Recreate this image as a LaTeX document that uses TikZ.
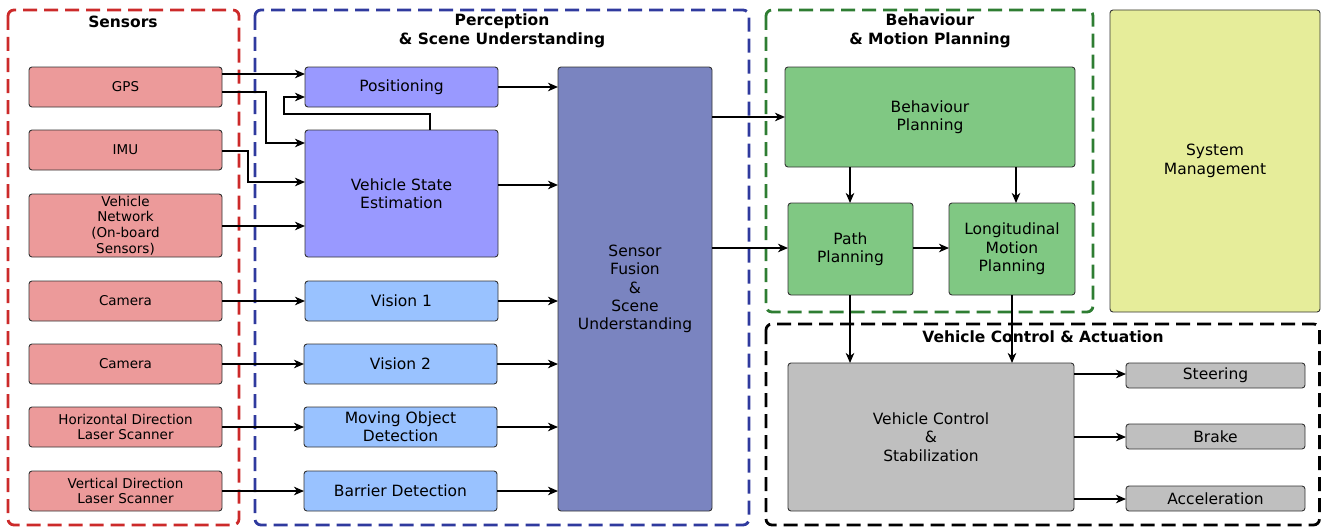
\documentclass[tikz,border=0pt]{standalone}
\usepackage{fontspec}
\setmainfont{DejaVu Sans}
\usetikzlibrary{arrows.meta}
\definecolor{sensfill}{HTML}{EC9A9A}
\definecolor{posfill}{HTML}{9999FF}
\definecolor{visfill}{HTML}{99C2FF}
\definecolor{fusfill}{HTML}{7A84C0}
\definecolor{grnfill}{HTML}{80C883}
\definecolor{smfill}{HTML}{E6ED9A}
\definecolor{gryfill}{HTML}{BFBFBF}
\definecolor{redgrp}{HTML}{CC2A2A}
\definecolor{bluegrp}{HTML}{2F3A9E}
\definecolor{greengrp}{HTML}{2E7D32}
\begin{document}
\begin{tikzpicture}[x=1pt,y=-1pt,
  blk/.style={draw=black!80, line width=0.9pt, rounded corners=3pt, inner sep=0pt, outer sep=0pt,
    anchor=north west, align=center, minimum width=193pt, minimum height=40pt,
    font=\fontsize{15.5}{18.3}\selectfont},
  sens/.style={blk, fill=sensfill, font=\fontsize{13.5}{15.8}\selectfont},
  posb/.style={blk, fill=posfill},
  visb/.style={blk, fill=visfill},
  fusb/.style={blk, fill=fusfill},
  grnb/.style={blk, fill=grnfill},
  smb/.style={blk, fill=smfill},
  gryb/.style={blk, fill=gryfill},
  grp/.style={line width=2.8pt, dash pattern=on 14pt off 7pt, rounded corners=6pt},
  arr/.style={line width=2pt, -{Stealth[length=10pt,width=8.5pt,inset=3pt]}},
  ttl/.style={font=\fontsize{15.5}{19}\selectfont\bfseries, align=center, inner sep=0pt}
]
\useasboundingbox (0,0) rectangle (1321,527);

% groups
\draw[grp, draw=redgrp] (8,10) rectangle (239,525);
\draw[grp, draw=bluegrp] (255,10) rectangle (749,525);
\draw[grp, draw=greengrp] (766,10) rectangle (1093,312);
\draw[grp, draw=black] (766,324) rectangle (1319.5,525);

\node[ttl] (tsens) at (123,21.5) {Sensors};
\node[ttl] (tperc) at (502,31) {Perception\\\& Scene Understanding};
\node[ttl] (tbeh) at (930,31) {Behaviour\\\& Motion Planning};
\node[ttl] (tctrl) at (1043,336.5) {Vehicle Control \& Actuation};

% sensors
\node[sens] (gps) at (29,67) {GPS};
\node[sens] (imu) at (29,130) {IMU};
\node[sens, minimum height=63pt] (vnet) at (29,194) {Vehicle\\Network\\(On-board\\ Sensors)};
\node[sens] (cam1) at (29,281) {Camera};
\node[sens] (cam2) at (29,344) {Camera};
\node[sens] (hlas) at (29,407) {Horizontal Direction\\Laser Scanner};
\node[sens] (vlas) at (29,471) {Vertical Direction\\Laser Scanner};

% perception
\node[posb] (pos) at (305,67) {Positioning};
\node[posb, minimum height=127pt] (vse) at (305,130) {Vehicle State\\Estimation};
\node[visb] (vis1) at (305,281) {Vision 1};
\node[visb] (vis2) at (304,344) {Vision 2};
\node[visb] (mod) at (304,407) {Moving Object\\Detection};
\node[visb] (bar) at (304,471) {Barrier Detection};
\node[fusb, minimum width=154pt, minimum height=444pt] (fus) at (558,67) {Sensor\\Fusion\\\&\\Scene\\Understanding};

% planning
\node[grnb, minimum width=290pt, minimum height=100pt] (bp) at (785,67) {Behaviour\\Planning};
\node[grnb, minimum width=125pt, minimum height=92pt] (pp) at (788,203) {Path\\Planning};
\node[grnb, minimum width=126pt, minimum height=92pt] (lmp) at (949,203) {Longitudinal\\Motion\\Planning};
\node[smb, minimum width=210pt, minimum height=302pt] (sm) at (1110,10) {System\\Management};

% control
\node[gryb, minimum width=286pt, minimum height=148pt] (vcs) at (788,363) {Vehicle Control\\\&\\Stabilization};
\node[gryb, minimum width=179pt, minimum height=25pt] (steer) at (1126,363) {Steering};
\node[gryb, minimum width=179pt, minimum height=25pt] (brake) at (1126,424) {Brake};
\node[gryb, minimum width=179pt, minimum height=25pt] (accel) at (1126,486) {Acceleration};

% connectors
\draw[arr] ([yshift=-7pt]gps.north east) -- ([yshift=-7pt]pos.north west);
\draw[arr] ([yshift=-25pt]gps.north east) -- ++(44,0) |- ([yshift=-13pt]vse.north west);
\draw[arr] ([yshift=-21pt]imu.north east) -- ++(26,0) |- ([yshift=-52pt]vse.north west);
\draw[arr] ([yshift=-32pt]vnet.north east) -- ([yshift=-96pt]vse.north west);
\draw[arr] ([xshift=125pt]vse.north west) -- ++(0,-16) -- ++(-146,0) |- ([yshift=-30pt]pos.north west);
\draw[arr] ([yshift=-20pt]cam1.north east) -- ([yshift=-20pt]vis1.north west);
\draw[arr] ([yshift=-20pt]cam2.north east) -- ([yshift=-20pt]vis2.north west);
\draw[arr] ([yshift=-20pt]hlas.north east) -- ([yshift=-20pt]mod.north west);
\draw[arr] ([yshift=-20pt]vlas.north east) -- ([yshift=-20pt]bar.north west);

\draw[arr] ([yshift=-20pt]pos.north east) -- ([yshift=-20pt]pos.north east -| fus.west);
\draw[arr] ([yshift=-55pt]vse.north east) -- ([yshift=-55pt]vse.north east -| fus.west);
\draw[arr] ([yshift=-20pt]vis1.north east) -- ([yshift=-20pt]vis1.north east -| fus.west);
\draw[arr] ([yshift=-20pt]vis2.north east) -- ([yshift=-20pt]vis2.north east -| fus.west);
\draw[arr] ([yshift=-20pt]mod.north east) -- ([yshift=-20pt]mod.north east -| fus.west);
\draw[arr] ([yshift=-20pt]bar.north east) -- ([yshift=-20pt]bar.north east -| fus.west);

\draw[arr] (bp.west -| fus.east) -- (bp.west);
\draw[arr] ([yshift=-45pt]pp.north west -| fus.east) -- ([yshift=-45pt]pp.north west);
\draw[arr] ([xshift=62pt]pp.north west |- bp.south) -- ([xshift=62pt]pp.north west);
\draw[arr] ([xshift=67pt]lmp.north west |- bp.south) -- ([xshift=67pt]lmp.north west);
\draw[arr] ([yshift=-45pt]pp.north east) -- ([yshift=-45pt]lmp.north west);
\draw[arr] ([xshift=62pt]pp.south west) -- ([xshift=62pt]pp.south west |- vcs.north);
\draw[arr] ([xshift=63pt]lmp.south west) -- ([xshift=63pt]lmp.south west |- vcs.north);

\draw[arr] ([yshift=-11pt]steer.north west -| vcs.east) -- ([yshift=-11pt]steer.north west);
\draw[arr] ([yshift=-13pt]brake.north west -| vcs.east) -- ([yshift=-13pt]brake.north west);
\draw[arr] ([yshift=-13pt]accel.north west -| vcs.east) -- ([yshift=-13pt]accel.north west);
\end{tikzpicture}
\end{document}
